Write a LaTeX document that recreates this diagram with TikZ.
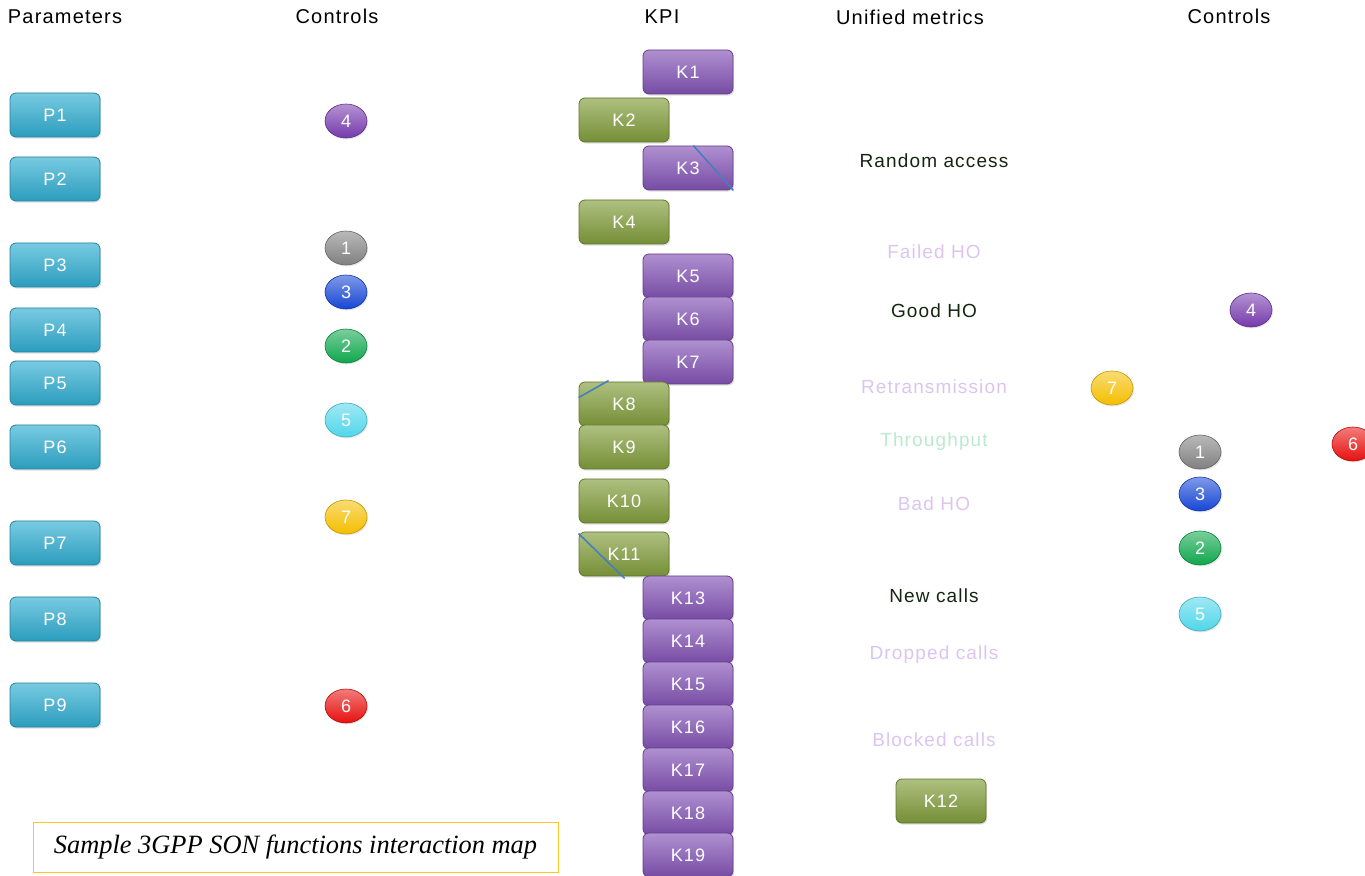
\documentclass[tikz,border=0pt]{standalone}
\usepackage{fontspec}
\setmainfont{Liberation Sans}[LetterSpace=6]
\newfontfamily\capfont{Liberation Serif}
\usetikzlibrary{shapes.geometric,shadows}

\definecolor{pcyan}{RGB}{48,174,210}
\definecolor{kpurple}{RGB}{132,84,182}
\definecolor{kgreen}{RGB}{130,158,60}
\definecolor{cpurple}{RGB}{118,58,172}
\definecolor{cgray}{RGB}{128,128,128}
\definecolor{cblue}{RGB}{22,70,212}
\definecolor{cgreen}{RGB}{14,166,76}
\definecolor{ccyan}{RGB}{80,214,234}
\definecolor{cyellow}{RGB}{244,190,0}
\definecolor{cred}{RGB}{230,16,14}
\definecolor{darkmetric}{RGB}{20,38,16}
\definecolor{paletext}{RGB}{220,196,240}
\definecolor{palegreen}{RGB}{186,234,206}
\definecolor{capline}{RGB}{255,196,40}
\definecolor{hoblue}{RGB}{70,126,190}

\begin{document}
\begin{tikzpicture}[x=0.5pt,y=-0.5pt,
    title/.style={font=\fontsize{10}{12}\selectfont},
    tile/.style={rectangle, rounded corners=3pt, minimum width=45pt, minimum height=22pt,
        inner sep=0pt, text=white, font=\fontsize{9}{11}\selectfont,
        top color=#1!65!white, bottom color=#1!90!black, draw=#1!75!black, line width=0.4pt,
        drop shadow={opacity=0.25, shadow xshift=0.6pt, shadow yshift=-0.8pt}},
    pbox/.style={tile=pcyan},
    kbox/.style={tile=kpurple},
    gbox/.style={tile=kgreen},
    ctl/.style={ellipse, minimum width=21pt, minimum height=17pt, inner sep=0pt,
        text=white, font=\fontsize{9}{11}\selectfont,
        top color=#1!55!white, bottom color=#1, draw=#1!80!black, line width=0.3pt,
        drop shadow={opacity=0.2, shadow xshift=0.5pt, shadow yshift=-0.7pt}},
    metric/.style={font=\fontsize{9.5}{11}\selectfont, text=darkmetric},
    faint/.style={font=\fontsize{9.5}{11}\selectfont, text=paletext},
    tick/.style={draw=hoblue, line width=0.8pt}]
    \useasboundingbox (0,0) rectangle (1365,876);

    % Column titles
    \node[title] (t-par) at (65,17) {Parameters};
    \node[title] (t-ctl) at (337,16) {Controls};
    \node[title] (t-kpi) at (662,17) {KPI};
    \node[title] (t-met) at (910,17) {Unified metrics};
    \node[title] (t-ctr) at (1229,16) {Controls};

    % Parameters
    \node[pbox] (p1) at (55,115) {P1};
    \node[pbox] (p2) at (55,179) {P2};
    \node[pbox] (p3) at (55,265) {P3};
    \node[pbox] (p4) at (55,330) {P4};
    \node[pbox] (p5) at (55,383) {P5};
    \node[pbox] (p6) at (55,447) {P6};
    \node[pbox] (p7) at (55,543) {P7};
    \node[pbox] (p8) at (55,619) {P8};
    \node[pbox] (p9) at (55,705) {P9};

    % Controls (left)
    \node[ctl=cpurple] (cl4) at (346,121) {4};
    \node[ctl=cgray]   (cl1) at (346,248) {1};
    \node[ctl=cblue]   (cl3) at (346,292) {3};
    \node[ctl=cgreen]  (cl2) at (346,346) {2};
    \node[ctl=ccyan]   (cl5) at (346,420) {5};
    \node[ctl=cyellow] (cl7) at (346,517) {7};
    \node[ctl=cred]    (cl6) at (346,706) {6};

    % KPI column
    \node[kbox] (k1) at (688,72) {K1};
    \node[gbox] (k2) at (624,120) {K2};
    \node[kbox] (k3) at (688,168) {K3};
    \node[gbox] (k4) at (624,222) {K4};
    \node[kbox] (k5) at (688,276) {K5};
    \node[kbox] (k6) at (688,319) {K6};
    \node[kbox] (k7) at (688,362) {K7};
    \node[gbox] (k8) at (624,404) {K8};
    \node[gbox] (k9) at (624,447) {K9};
    \node[gbox] (k10) at (624,501) {K10};
    \node[gbox] (k11) at (624,554) {K11};
    \node[kbox] (k13) at (688,598) {K13};
    \node[kbox] (k14) at (688,641) {K14};
    \node[kbox] (k15) at (688,684) {K15};
    \node[kbox] (k16) at (688,727) {K16};
    \node[kbox] (k17) at (688,770) {K17};
    \node[kbox] (k18) at (688,813) {K18};
    \node[kbox] (k19) at (688,855) {K19};

    % stray strokes over some tiles
    \draw[tick] ([xshift=-20pt]k3.north east) -- (k3.south east);
    \draw[tick] ([yshift=-8pt]k8.north west) -- ([xshift=15pt,yshift=0.5pt]k8.north west);
    \draw[tick] ([yshift=-1pt]k11.north west) -- ([xshift=23pt,yshift=-1pt]k11.south west);

    % Unified metrics
    \node[metric] (m-ra) at (934,161) {Random access};
    \node[faint]  (m-fho) at (934,252) {Failed HO};
    \node[metric] (m-gho) at (934,311) {Good HO};
    \node[faint]  (m-rt) at (934,387) {Retransmission};
    \node[faint, text=palegreen] (m-tp) at (934,442) {Throughput};
    \node[faint]  (m-bho) at (934,504) {Bad HO};
    \node[metric] (m-nc) at (934,596) {New calls};
    \node[faint]  (m-dc) at (934,655) {Dropped calls};
    \node[faint]  (m-bc) at (934,740) {Blocked calls};
    \node[gbox] (k12) at (941,801) {K12};

    % Controls (right)
    \node[ctl=cpurple] (cr4) at (1251,310) {4};
    \node[ctl=cyellow] (cr7) at (1112,388) {7};
    \node[ctl=cred]    (cr6) at (1353,444) {6};
    \node[ctl=cgray]   (cr1) at (1200,452) {1};
    \node[ctl=cblue]   (cr3) at (1200,494) {3};
    \node[ctl=cgreen]  (cr2) at (1200,548) {2};
    \node[ctl=ccyan]   (cr5) at (1200,614) {5};

    % Caption
    \node[draw=capline, line width=0.5pt, minimum width=262.5pt, minimum height=25pt,
        font=\capfont\fontsize{13.2}{15}\selectfont\itshape] (caption) at (295.5,847) {Sample 3GPP SON functions interaction map};
\end{tikzpicture}
\end{document}
